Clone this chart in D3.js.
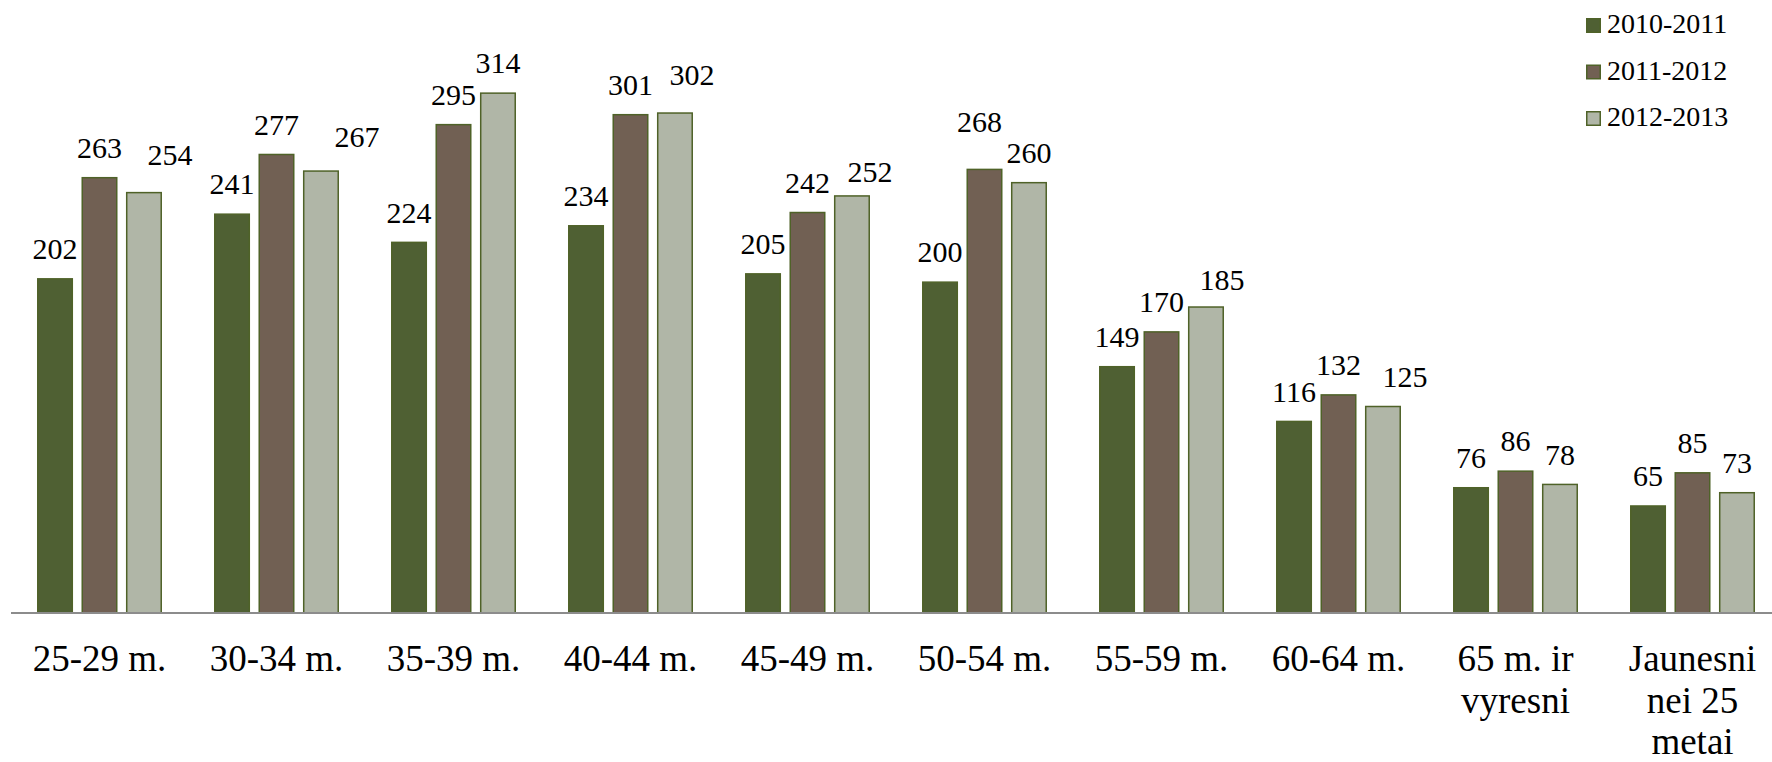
<!DOCTYPE html>
<html>
<head>
<meta charset="utf-8">
<script src="https://cdn.jsdelivr.net/npm/d3@7"></script>
<style>
  body { margin: 0; background: #fff; }
</style>
</head>
<body>
<script>
width = 1772
height = 762
font = "'Liberation Serif', 'DejaVu Serif', serif"

// data
categories = [["25-29 m."], ["30-34 m."], ["35-39 m."], ["40-44 m."], ["45-49 m."],
              ["50-54 m."], ["55-59 m."], ["60-64 m."], ["65 m. ir", "vyresni"],
              ["Jaunesni", "nei 25", "metai"]]
seriesNames = ["2010-2011", "2011-2012", "2012-2013"]
s2011 = [202, 241, 224, 234, 205, 200, 149, 116, 76, 65]
s2012 = [263, 277, 295, 301, 242, 268, 170, 132, 86, 85]
s2013 = [254, 267, 314, 302, 252, 260, 185, 125, 78, 73]
series = [s2011, s2012, s2013]

colors = ["#4F6033", "#716053", "#B0B6A7"]
strokeColor = "#4F6228"

// a few labels were dragged off-centre in the original
labelNudge = {"0-2": [26, -8], "1-2": [36, -4], "3-2": [17, -8], "4-2": [18, 6],
              "5-1": [-5, -18], "6-2": [16, 3], "7-2": [22, 0]}

baseY = 613

x0 = d3.scaleBand()
    .domain(d3.range(categories.length))
    .range([11, 1781])
    .paddingInner(0.294)
    .paddingOuter(0.147)

x1 = d3.scaleBand()
    .domain(d3.range(series.length))
    .range([0, x0.bandwidth()])
    .paddingInner(0.19)

y = d3.scaleLinear()
    .domain([0, 350])
    .range([baseY, baseY - 350 * 1.658])

svg = d3.select("body")
    .append("svg")
    .attr("width", width)
    .attr("height", height)
    .attr("font-family", font)

cells = []
series.forEach(function(vals, s) {
    vals.forEach(function(v, i) { cells.push({i: i, s: s, v: v}); });
})

svg.selectAll("rect.bar")
    .data(cells)
    .enter()
    .append("rect")
    .attr("class", "bar")
    .attr("x", function(d) { return x0(d.i) + x1(d.s) + 0.75; })
    .attr("y", function(d) { return y(d.v) + 0.75; })
    .attr("width", x1.bandwidth() - 1.5)
    .attr("height", function(d) { return baseY - y(d.v) - 0.75; })
    .attr("fill", function(d) { return colors[d.s]; })
    .attr("stroke", strokeColor)
    .attr("stroke-width", 1.5)

svg.selectAll("text.val")
    .data(cells)
    .enter()
    .append("text")
    .attr("class", "val")
    .attr("x", function(d) {
        n = labelNudge[d.i + "-" + d.s] || [0, 0];
        return x0(d.i) + x1(d.s) + x1.bandwidth() / 2 + n[0];
    })
    .attr("y", function(d) {
        n = labelNudge[d.i + "-" + d.s] || [0, 0];
        return y(d.v) - 19 + n[1];
    })
    .attr("text-anchor", "middle")
    .attr("font-family", font)
    .attr("font-size", 30)
    .text(function(d) { return d.v; })

// axis line
svg.append("line")
    .attr("x1", 11)
    .attr("x2", width)
    .attr("y1", baseY)
    .attr("y2", baseY)
    .attr("stroke", "#8C8C8C")
    .attr("stroke-width", 2)

// category labels
cat = svg.selectAll("text.cat")
    .data(categories)
    .enter()
    .append("text")
    .attr("class", "cat")
    .attr("text-anchor", "middle")
    .attr("font-family", font)
    .attr("font-size", 37)
    .attr("transform", function(d, i) {
        return "translate(" + (x0(i) + x0.bandwidth() / 2) + "," + 671 + ")";
    })

cat.selectAll("tspan")
    .data(function(d) { return d; })
    .enter()
    .append("tspan")
    .attr("x", 0)
    .attr("y", function(d, j) { return j * 41.5; })
    .text(function(d) { return d; })

// legend
legend = svg.selectAll("g.leg")
    .data(seriesNames)
    .enter()
    .append("g")
    .attr("class", "leg")
    .attr("transform", function(d, i) { return "translate(1586," + (18 + i * 46.5) + ")"; })

legend.append("rect")
    .attr("x", 0.75)
    .attr("y", 0.75)
    .attr("width", 13.5)
    .attr("height", 13.5)
    .attr("fill", function(d, i) { return colors[i]; })
    .attr("stroke", strokeColor)
    .attr("stroke-width", 1.5)

legend.append("text")
    .attr("x", 21)
    .attr("y", 15)
    .attr("font-family", font)
    .attr("font-size", 28)
    .text(function(d) { return d; })
</script>
</body>
</html>
